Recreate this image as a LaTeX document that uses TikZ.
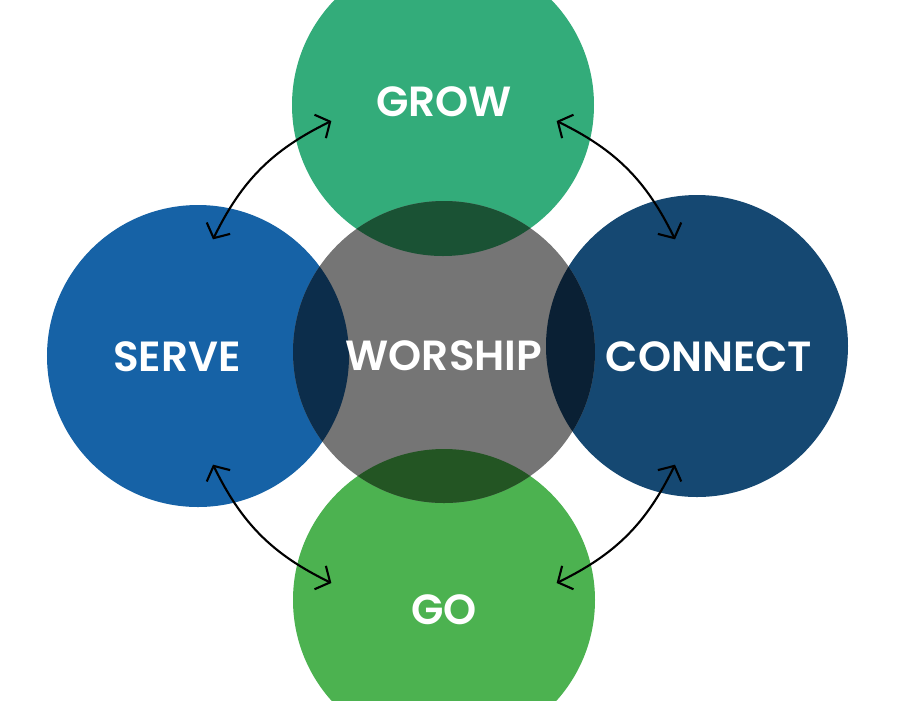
\documentclass[tikz,border=0pt]{standalone}
\usepackage{fontspec}
\setsansfont{Poppins}[BoldFont={Poppins SemiBold}]
\usepackage{xcolor}
\definecolor{wsGrow}     {RGB}{ 51, 172, 122}
\definecolor{wsServe}    {RGB}{ 22,  98, 166}
\definecolor{wsConnect}  {RGB}{ 21,  72, 114}
\definecolor{wsGo}       {RGB}{ 76, 178,  80}
\definecolor{wsWorship}  {RGB}{117, 117, 117}
\definecolor{wsGrowDk}   {RGB}{ 26,  82,  52}
\definecolor{wsServeDk}  {RGB}{ 12,  45,  75}
\definecolor{wsConnectDk}{RGB}{ 10,  32,  52}
\definecolor{wsGoDk}     {RGB}{ 35,  85,  35}
\usetikzlibrary{
  arrows.meta,
  positioning,
  calc,
}

\begin{document}
\begin{tikzpicture}[
  blob/.style={circle, minimum size=3.02cm, inner sep=0pt, draw=none},
  label/.style={text=white, font=\sffamily\bfseries\fontsize{12}{14}\selectfont},
  link/.style={{Straight Barb[length=1.1mm,width=2.6mm]}-{Straight Barb[length=1.1mm,width=2.6mm]}, line width=0.6pt, black},
]
  \useasboundingbox (0,0) rectangle (9,7);
  \clip (0,0) rectangle (9,7);

  % Outer circles
  \node[blob, fill=wsGrow]    (grow)    at (4.43,5.95) {};
  \node[blob, fill=wsServe]   (serve)   at (1.98,3.44) {};
  \node[blob, fill=wsConnect] (connect) at (6.97,3.54) {};
  \node[blob, fill=wsGo]      (go)      at (4.44,1.00) {};

  % Centre circle
  \node[blob, fill=wsWorship] (worship) at (4.44,3.48) {};

  % Overlaps
  \begin{scope}
    \clip (worship.center) circle (1.51);
    \fill[wsGrowDk]    (grow.center)    circle (1.51);
    \fill[wsServeDk]   (serve.center)   circle (1.51);
    \fill[wsConnectDk] (connect.center) circle (1.51);
    \fill[wsGoDk]      (go.center)      circle (1.51);
  \end{scope}

  % Labels
  \node[label] (growL)    at (4.44,5.98) {GROW};
  \node[label] (serveL)   at (1.77,3.43) {SERVE};
  \node[label] (worshipL) at (4.44,3.44) {WORSHIP};
  \node[label] (connectL) at (7.09,3.43) {CONNECT};
  \node[label] (goL)      at (4.44,0.90) {GO};

  % Arrow ends
  \coordinate (gsA) at ($(worship.center)+(116:2.57)$);
  \coordinate (gsB) at ($(worship.center)+(154:2.57)$);
  \coordinate (gcA) at ($(worship.center)+(64:2.57)$);
  \coordinate (gcB) at ($(worship.center)+(26:2.57)$);
  \coordinate (sgA) at ($(worship.center)+(206:2.57)$);
  \coordinate (sgB) at ($(worship.center)+(244:2.57)$);
  \coordinate (cgA) at ($(worship.center)+(334:2.57)$);
  \coordinate (cgB) at ($(worship.center)+(296:2.57)$);

  % Arrows
  \draw[link] (gsA) to[bend right=19] (gsB);
  \draw[link] (gcA) to[bend left=19]  (gcB);
  \draw[link] (sgA) to[bend right=19] (sgB);
  \draw[link] (cgA) to[bend left=19]  (cgB);

\end{tikzpicture}
\end{document}
